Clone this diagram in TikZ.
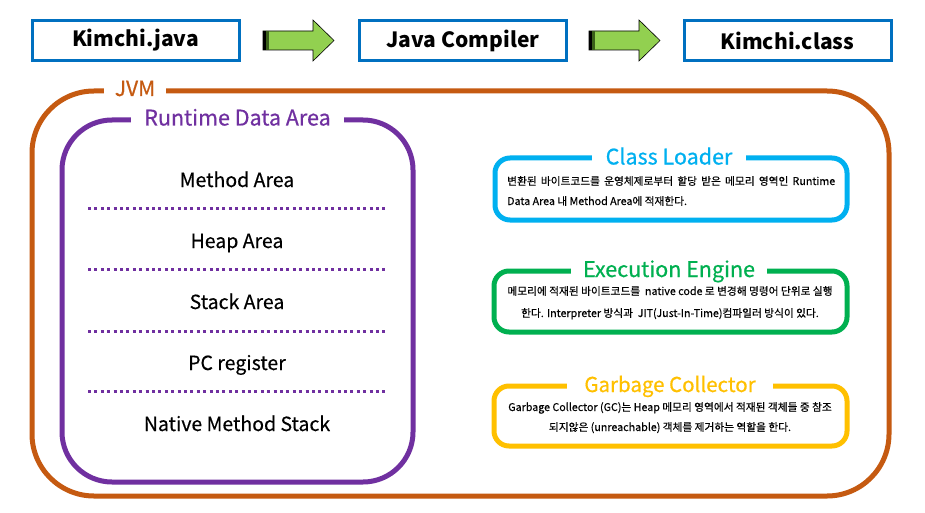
\documentclass[tikz,border=0pt]{standalone}
\usepackage{fontspec}
\setmainfont{Noto Sans CJK KR}
\newfontfamily\medfont[FakeBold=0.35]{Noto Sans CJK KR}
\newfontfamily\semifont[FakeBold=0.6]{Noto Sans CJK KR}
\definecolor{jblue}{HTML}{0070C0}
\definecolor{jorange}{HTML}{C55A11}
\definecolor{jpurple}{HTML}{7030A0}
\definecolor{jcyan}{HTML}{00B0F0}
\definecolor{jgreen}{HTML}{00B050}
\definecolor{jyellow}{HTML}{FFC000}
\definecolor{agreen}{HTML}{92D050}
\definecolor{dgreen}{HTML}{3A5F1A}
\begin{document}
\begin{tikzpicture}[x=1pt,y=-1pt,
  topbox/.style={draw=jblue, line width=3pt, minimum width=207pt, minimum height=40pt, inner sep=0pt, font=\bfseries\fontsize{21}{24}\selectfont},
  garrow/.style={draw=black, line width=0.6pt, fill=agreen, line join=miter},
  bigframe/.style={line width=5pt},
  frametitle/.style={fill=white, anchor=base, inner ysep=3pt},
  area/.style={font=\medfont\fontsize{19.5}{22}\selectfont, anchor=base},
  sep/.style={draw=jpurple, line width=3pt, dash pattern=on 3pt off 3.4pt},
  smallbox/.style={line width=5pt, rounded corners=15pt},
  bodytext/.style={font=\medfont\fontsize{10.7}{12}\selectfont, anchor=base, inner sep=0pt}
]
\useasboundingbox (0,0) rectangle (925,513);
\fill[white] (0,0) rectangle (925,513);

% top row
\node[topbox] (src)  at (135.5,40.5) {Kimchi.java};
\node[topbox] (comp) at (463,40.5) {Java Compiler};
\node[topbox] (cls)  at (787.5,40.5) {Kimchi.class};

\foreach \dx in {0,326}{
  \begin{scope}[xshift=\dx pt]
    \draw[garrow] (263,31) -- (313,31) -- (313,20) -- (334,40.5) -- (313,61) -- (313,50) -- (263,50) -- cycle;
    \fill[black] (263.3,31.3) rectangle (265.8,49.7);
    \fill[dgreen] (266.3,31.3) rectangle (268.5,49.7);
  \end{scope}
}

% JVM frame
\draw[bigframe, draw=jorange, rounded corners=62pt] (32,91) rectangle (889,496);
\node[frametitle, text=jorange, inner xsep=11pt, font=\semifont\fontsize{21}{24}\selectfont] (jvm) at (135,96) {JVM};

% Runtime Data Area
\draw[bigframe, draw=jpurple, rounded corners=50pt] (62,120) rectangle (413,482);
\node[frametitle, text=jpurple, inner xsep=13pt, font=\semifont\fontsize{21.5}{24}\selectfont] (rda) at (237.5,125.5) {Runtime Data Area};

\node[area] (ma)  at (237,187) {Method Area};
\node[area] (ha)  at (237,248) {Heap Area};
\node[area] (sa)  at (237,309) {Stack Area};
\node[area] (pc)  at (237,370) {PC register};
\node[area] (nms) at (237,431) {Native Method Stack};
\draw[sep] (88,208) -- (388,208);
\draw[sep] (88,269) -- (388,269);
\draw[sep] (88,331) -- (388,331);
\draw[sep] (88,391) -- (388,391);

% Class Loader
\draw[smallbox, draw=jcyan] (495,158) rectangle (847,220);
\node[frametitle, text=jcyan, inner xsep=14pt, font=\semifont\fontsize{21.5}{26}\selectfont] (cl) at (669,164.5) {Class Loader};
\node[bodytext, anchor=base west] (cl1) at (507,185) {\makebox[328pt][s]{변환된 바이트코드를 운영체제로부터 할당 받은 메모리 영역인 Runtime}};
\node[bodytext, anchor=base west] (cl2) at (507,205) {Data Area 내 Method Area에 적재한다.};

% Execution Engine
\draw[smallbox, draw=jgreen] (494,271) rectangle (847,332);
\node[frametitle, text=jgreen, inner xsep=12pt, font=\semifont\fontsize{21.5}{26}\selectfont] (ee) at (669,277) {Execution Engine};
\node[bodytext] (ee1) at (670,295) {메모리에 적재된 바이트코드를~ native code 로 변경해 명령어 단위로 실행};
\node[bodytext] (ee2) at (670,317) {한다. Interpreter 방식과~ JIT(Just-In-Time)컴파일러 방식이 있다.};

% Garbage Collector
\draw[smallbox, draw=jyellow] (494,386) rectangle (847,446);
\node[frametitle, text=jyellow, inner xsep=17pt, font=\semifont\fontsize{20.5}{26}\selectfont] (gc) at (670,392) {Garbage Collector};
\node[bodytext] (gc1) at (670,411) {Garbage Collector (GC)는 Heap 메모리 영역에서 적재된 객체들 중 참조};
\node[bodytext] (gc2) at (670,431) {되지않은 (unreachable) 객체를 제거하는 역할을 한다.};
\end{tikzpicture}
\end{document}
